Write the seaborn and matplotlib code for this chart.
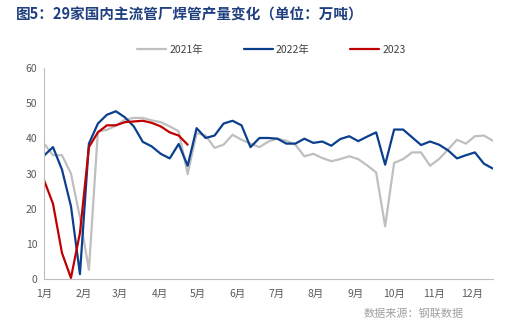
import matplotlib
matplotlib.use("Agg")
import matplotlib.pyplot as plt
import seaborn as sns
import pandas as pd
import numpy as np

# weekly data (week index from start of year)
y2021 = [38.5, 35.2, 35.2, 30.0, 17.5, 2.6, 42.0, 42.4, 43.6, 45.3, 45.8, 45.8, 45.1, 44.6,
         43.4, 42.0, 29.8, 41.5, 40.8, 37.3, 38.2, 41.0, 39.6, 38.5, 37.5, 39.1, 39.9, 39.3,
         38.2, 34.9, 35.6, 34.4, 33.5, 34.1, 34.9, 34.1, 32.3, 30.3, 15.0, 33.0, 34.1, 36.0,
         36.0, 32.2, 34.1, 36.8, 39.6, 38.5, 40.6, 40.8, 39.3]
y2022 = [35.1, 37.5, 31.1, 20.7, 1.4, 38.5, 44.2, 46.7, 47.7, 46.0, 43.4, 39.0, 37.7, 35.6,
         34.3, 38.4, 32.2, 42.9, 40.1, 40.8, 44.2, 45.0, 43.7, 37.5, 40.1, 40.1, 39.9, 38.5,
         38.5, 39.9, 38.7, 39.1, 37.9, 39.8, 40.6, 39.2, 40.5, 41.7, 32.5, 42.5, 42.5, 40.3,
         38.1, 39.1, 38.2, 36.6, 34.3, 35.2, 36.0, 32.8, 31.4]
y2023 = [28.1, 21.4, 7.4, 0.3, 13.1, 37.5, 41.7, 43.7, 43.7, 44.6, 44.8, 45.0, 44.4, 43.4,
         41.7, 40.8, 38.2]
series_names = ["2021年", "2022年", "2023"]
month_labels = ["1月", "2月", "3月", "4月", "5月", "6月", "7月", "8月", "9月", "10月", "11月", "12月"]
month_days = [0, 31, 59, 90, 120, 151, 181, 212, 243, 273, 304, 334]
colors = ["#BFBFBF", "#0B3F8E", "#C00000"]

rows = []
for name, vals in zip(series_names, [y2021, y2022, y2023]):
    for i, v in enumerate(vals):
        rows.append({"day": i * 7, "value": v, "series": name})
df = pd.DataFrame(rows)

sns.set_theme(style="white")
plt.rcParams['font.family'] = ['Noto Sans CJK SC', 'DejaVu Sans']

fig = plt.figure(figsize=(5.26, 3.27), dpi=100)
ax = fig.add_axes([0.0837, 0.1468, 0.937 - 0.0837, 0.792 - 0.1468])

sns.lineplot(data=df, x="day", y="value", hue="series", palette=colors,
             hue_order=series_names, linewidth=1.6, ax=ax, legend=True)

ax.set_xlim(0, 350)
ax.set_ylim(0, 60)
ax.set_yticks(range(0, 61, 10))
ax.set_xticks(month_days)
ax.set_xticklabels(month_labels)
ax.set_xlabel("")
ax.set_ylabel("")
for s in ["top", "right"]:
    ax.spines[s].set_visible(False)
for s in ["left", "bottom"]:
    ax.spines[s].set_color("#BFBFBF")
    ax.spines[s].set_linewidth(0.8)
ax.tick_params(axis="both", which="major", length=3, width=0.8, color="#BFBFBF",
               labelsize=7.5, labelcolor="#595959", direction="out", pad=2)
ax.tick_params(axis="x", pad=4)

handles, labels = ax.get_legend_handles_labels()
ax.legend_.remove()
fig.legend(handles, labels, loc="center", bbox_to_anchor=(0.516, 0.847), ncol=3,
           frameon=False, fontsize=7.5, handlelength=2.8, columnspacing=3.9,
           handletextpad=0.3, labelcolor="#404040")

fig.text(0.03, 0.955, "图5：29家国内主流管厂焊管产量变化（单位：万吨）", fontsize=10.5,
         fontweight="bold", color="#1F3F7F", va="center", ha="left")
fig.text(0.882, 0.042, "数据来源：钢联数据", fontsize=8, color="#A0A0A0",
         va="center", ha="right")

fig.savefig("out.png", dpi=100)
